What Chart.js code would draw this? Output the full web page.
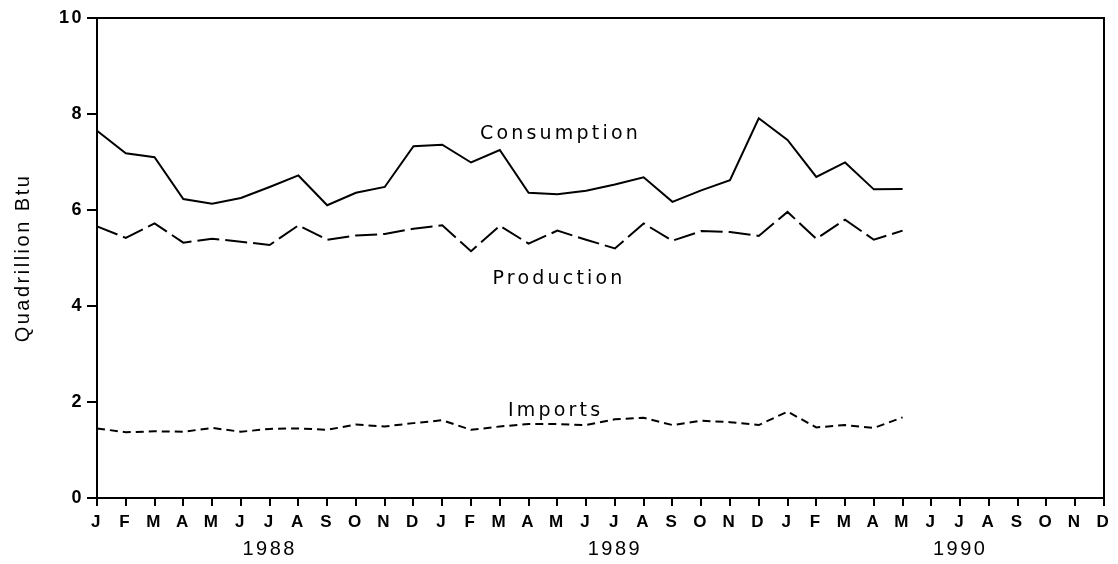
<!DOCTYPE html>
<html>
<head>
<meta charset="utf-8">
<script src="https://cdn.jsdelivr.net/npm/chart.js@4"></script>
<style>
  html, body { margin: 0; padding: 0; background: #fff; }
  #wrap { width: 1118px; height: 564px; }
</style>
</head>
<body>
<div id="wrap"><canvas id="chart" width="1118" height="564"></canvas></div>
<script>
// month letters, Jan 1988 .. Dec 1990
var months = ['J','F','M','A','M','J','J','A','S','O','N','D',
              'J','F','M','A','M','J','J','A','S','O','N','D',
              'J','F','M','A','M','J','J','A','S','O','N','D'];
var years = ['1988', '1989', '1990'];

// quadrillion Btu, Jan 1988 .. May 1990
var consumption = [7.65, 7.18, 7.10, 6.23, 6.13, 6.25, 6.48, 6.72, 6.10, 6.36, 6.48, 7.33,
                   7.36, 6.99, 7.25, 6.36, 6.33, 6.40, 6.53, 6.68, 6.17, 6.41, 6.62, 7.91,
                   7.46, 6.69, 6.99, 6.43, 6.44];
var production  = [5.66, 5.42, 5.72, 5.32, 5.40, 5.34, 5.27, 5.68, 5.38, 5.47, 5.50, 5.61,
                   5.68, 5.14, 5.67, 5.30, 5.57, 5.38, 5.20, 5.72, 5.36, 5.56, 5.54, 5.46,
                   5.96, 5.40, 5.80, 5.38, 5.57];
var imports     = [1.45, 1.37, 1.39, 1.38, 1.46, 1.38, 1.44, 1.45, 1.42, 1.53, 1.49, 1.56,
                   1.62, 1.42, 1.49, 1.54, 1.54, 1.52, 1.64, 1.67, 1.52, 1.61, 1.58, 1.52,
                   1.80, 1.47, 1.52, 1.46, 1.68];

// series names drawn next to the lines: [text, category index, value]
var seriesLabels = [
  ['Consumption', 16.11, 7.58],
  ['Production', 16.06, 4.56],
  ['Imports', 15.94, 1.81]
];

var FONT = '"Liberation Sans", Arial, sans-serif';

var framePlugin = {
  id: 'frame',
  beforeDraw: function(chart) {
    chart.ctx.letterSpacing = '2.5px';
  },
  afterDraw: function(chart) {
    var ctx = chart.ctx, a = chart.chartArea;
    ctx.save();
    ctx.strokeStyle = '#000';
    ctx.lineWidth = 2;
    ctx.strokeRect(a.left, a.top, a.right - a.left, a.bottom - a.top);

    var xs = chart.scales.x, ys = chart.scales.y;
    ctx.fillStyle = '#000';
    ctx.font = '19px "DejaVu Sans", sans-serif';
    ctx.letterSpacing = '3.2px';
    ctx.textAlign = 'center';
    ctx.textBaseline = 'middle';
    seriesLabels.forEach(function(l) {
      ctx.fillText(l[0], xs.getPixelForValue(l[1]), ys.getPixelForValue(l[2]));
    });
    ctx.restore();
  }
};

var ctx = document.getElementById('chart').getContext('2d');
var chart = new Chart(ctx, {
  type: 'line',
  data: {
    labels: months,
    datasets: [{
      label: 'Consumption',
      data: consumption,
      borderColor: '#000',
      borderWidth: 2,
      pointRadius: 0,
      tension: 0,
      fill: false
    }, {
      label: 'Production',
      data: production,
      borderColor: '#000',
      borderWidth: 2,
      borderDash: [22, 6],
      pointRadius: 0,
      tension: 0,
      fill: false
    }, {
      label: 'Imports',
      data: imports,
      borderColor: '#000',
      borderWidth: 2,
      borderDash: [8, 5],
      pointRadius: 0,
      tension: 0,
      fill: false
    }]
  },
  options: {
    responsive: false,
    animation: false,
    layout: { padding: { left: 0, right: 14, top: 18, bottom: 0 } },
    plugins: {
      legend: { display: false },
      tooltip: { enabled: false }
    },
    scales: {
      x: {
        offset: false,
        weight: 0,
        afterFit: function(s) { s.height = 30; },
        grid: { drawOnChartArea: false, drawTicks: true, tickLength: 8, color: '#000', lineWidth: 2 },
        border: { color: '#000', width: 2 },
        ticks: {
          autoSkip: false,
          maxRotation: 0,
          padding: 6,
          color: '#000',
          font: { family: FONT, size: 17, weight: 'bold' }
        }
      },
      x2: {
        type: 'category',
        position: 'bottom',
        offset: false,
        weight: 1,
        afterFit: function(s) { s.height = 36; },
        grid: { display: false, drawTicks: false },
        border: { display: false },
        ticks: {
          autoSkip: false,
          maxRotation: 0,
          padding: 9,
          color: '#000',
          font: { family: FONT, size: 20 },
          callback: function(v, i) {
            return (i % 12 === 6) ? years[Math.floor(i / 12)] : '';
          }
        }
      },
      y: {
        min: 0,
        max: 10,
        afterFit: function(s) { s.width = 97; },
        grid: { drawOnChartArea: false, drawTicks: true, tickLength: 10, color: '#000', lineWidth: 2 },
        border: { color: '#000', width: 2 },
        ticks: {
          stepSize: 2,
          padding: 3,
          color: '#000',
          font: { family: FONT, size: 18, weight: 'bold' }
        },
        title: {
          display: true,
          text: 'Quadrillion Btu',
          color: '#000',
          padding: { top: 11, bottom: 0 },
          font: { family: FONT, size: 20 }
        }
      }
    }
  },
  plugins: [framePlugin]
});
</script>
</body>
</html>
